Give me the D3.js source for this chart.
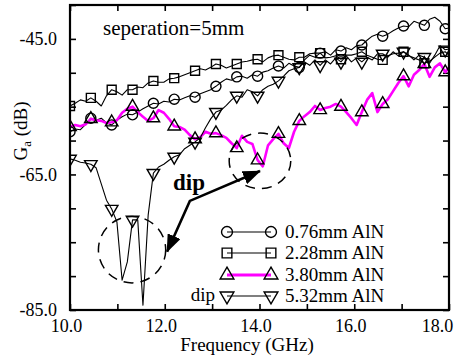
<!DOCTYPE html>
<html>
<head>
<meta charset="utf-8">
<script src="https://cdn.jsdelivr.net/npm/d3@7"></script>
<style>
  body { margin: 0; background: #fff; }
  svg { display: block; }
  svg text { font-family: "Liberation Serif", "Times New Roman", serif; }
</style>
</head>
<body>
<svg id="chart" width="455" height="360"></svg>
<script>
// frequency points (GHz)
const freq = [10.00, 10.11, 10.22, 10.33, 10.44, 10.55, 10.66, 10.77, 10.88, 10.99,
  11.10, 11.21, 11.32, 11.43, 11.54, 11.65, 11.76, 11.87, 11.98, 12.09,
  12.20, 12.31, 12.42, 12.53, 12.64, 12.75, 12.86, 12.97, 13.08, 13.19,
  13.30, 13.41, 13.52, 13.63, 13.74, 13.85, 13.96, 14.07, 14.18, 14.29,
  14.40, 14.51, 14.62, 14.73, 14.84, 14.95, 15.06, 15.17, 15.28, 15.39,
  15.50, 15.61, 15.72, 15.83, 15.94, 16.05, 16.16, 16.27, 16.38, 16.49,
  16.60, 16.71, 16.82, 16.93, 17.04, 17.15, 17.26, 17.37, 17.48, 17.59,
  17.70, 17.81, 17.92, 18.00];

// Ga (dB) per AlN thickness
const aln076 = [-58.7, -58.3, -58.4, -57.6, -56.7, -57.0, -56.7, -57.4, -57.7, -57.0,
  -56.5, -56.1, -56.2, -55.8, -55.3, -54.9, -54.5, -54.6, -54.2, -54.3,
  -53.9, -54.0, -53.7, -53.4, -53.6, -53.1, -52.8, -52.5, -52.0, -51.4,
  -50.9, -51.1, -50.6, -50.5, -50.8, -50.3, -50.5, -49.9, -49.7, -49.3,
  -49.0, -49.3, -48.6, -49.0, -49.2, -48.1, -47.4, -47.7, -47.1, -46.9,
  -47.4, -46.6, -46.8, -46.3, -46.6, -46.0, -45.9, -45.2, -44.6, -44.3,
  -44.6, -44.3, -43.8, -43.4, -43.1, -43.2, -42.4, -42.7, -43.0, -42.1,
  -41.8, -42.4, -43.5, -43.4];

const aln228 = [-54.9, -54.5, -54.0, -54.2, -53.7, -54.2, -54.9, -53.4, -52.5, -52.8,
  -53.3, -52.5, -52.5, -52.1, -52.2, -51.5, -51.2, -51.4, -51.4, -50.9,
  -50.8, -50.6, -50.3, -50.0, -49.7, -49.4, -49.6, -49.2, -48.7, -48.9,
  -49.3, -49.0, -48.7, -48.4, -48.3, -48.1, -48.0, -48.4, -47.8, -47.5,
  -47.4, -47.7, -48.0, -48.1, -47.7, -47.7, -47.2, -47.1, -47.1, -47.8,
  -47.7, -47.5, -48.0, -47.4, -47.4, -47.2, -46.9, -47.4, -47.7, -48.0,
  -48.1, -47.5, -47.2, -47.1, -46.9, -47.5, -47.8, -48.1, -48.6, -48.3,
  -47.7, -47.1, -46.9, -47.4];

const aln380 = [-58.0, -57.7, -57.9, -57.6, -56.8, -57.0, -57.1, -57.4, -57.3, -57.0,
  -55.9, -55.3, -55.0, -55.8, -56.5, -57.1, -56.7, -55.5, -55.9, -56.8,
  -57.9, -58.0, -58.4, -59.2, -59.8, -59.5, -58.7, -59.0, -58.9, -59.2,
  -59.6, -60.4, -61.1, -59.3, -60.2, -60.5, -62.9, -63.8, -60.7, -59.8,
  -59.0, -60.4, -61.1, -58.7, -57.1, -56.4, -55.8, -54.9, -55.5, -55.2,
  -55.0, -54.6, -55.0, -55.8, -56.7, -57.7, -55.8, -54.0, -53.0, -55.8,
  -54.6, -53.9, -52.7, -51.5, -50.5, -52.0, -50.3, -49.6, -48.7, -50.6,
  -49.2, -48.6, -49.9, -49.2];

const aln532 = [-62.7, -62.9, -63.2, -63.3, -63.5, -64.0, -66.4, -68.8, -70.1, -72.0,
  -80.6, -77.9, -71.7, -71.7, -84.3, -71.0, -64.8, -63.9, -63.5, -62.9,
  -62.4, -62.1, -61.2, -60.7, -60.2, -59.6, -58.1, -56.8, -55.8, -55.5,
  -54.8, -54.0, -53.4, -53.6, -52.5, -52.8, -53.4, -52.5, -52.0, -51.7,
  -51.2, -50.5, -49.7, -49.4, -49.2, -48.4, -48.9, -48.1, -48.9, -48.1,
  -48.7, -47.8, -48.4, -47.5, -48.4, -47.8, -48.4, -47.7, -48.1, -47.2,
  -47.2, -47.7, -46.9, -47.5, -46.9, -47.4, -48.1, -47.4, -47.7, -48.6,
  -47.4, -46.0, -46.6, -46.5];

const seriesNames = ['0.76mm AlN', '2.28mm AlN', '3.80mm AlN', '5.32mm AlN'];
const seriesData = [aln076, aln228, aln380, aln532];

const xTicks = [10, 11, 12, 13, 14, 15, 16, 17, 18];
const xTickLabels = [10, 12, 14, 16, 18];
const yTicks = [-85, -80, -75, -70, -65, -60, -55, -50, -45, -40];
const yTickLabels = [-85, -65, -45];

// annotation anchors in data units
const dipEllipses = [
  { f: 11.31, v: -76.1, rf: 0.71, rv: 4.9 },
  { f: 14.01, v: -63.0, rf: 0.65, rv: 4.1 }
];
const dipArrow = [[14.01, -64.5], [12.53, -68.9], [12.05, -76.4]];

// styles
const FONT = '"Liberation Serif", "Times New Roman", serif';
const seriesColors = ['#000', '#000', '#ff00ff', '#000'];
const seriesWidths = [1.1, 1.1, 2.6, 1.1];
const seriesSymbols = [d3.symbolCircle, d3.symbolSquare, d3.symbolTriangle, d3.symbolTriangle];
const symbolSizes = [80, 80, 68, 68];
const symbolRotate = [0, 0, 0, 180];
const MARKER_EVERY = 4;

// plot area
const plot = { left: 70, right: 449, top: 5, bottom: 310 };

const svg = d3.select('#chart');

const x = d3.scaleLinear().domain([10, 18]).range([plot.left, plot.right]);
const y = d3.scaleLinear().domain([-85, -40]).range([plot.bottom, plot.top]);

const defs = svg.append('defs');
defs.append('clipPath').attr('id', 'plotClip')
  .append('rect')
  .attr('x', plot.left).attr('y', plot.top)
  .attr('width', plot.right - plot.left).attr('height', plot.bottom - plot.top);

defs.append('marker')
  .attr('id', 'arrowHead')
  .attr('viewBox', '0 0 18 14')
  .attr('refX', 17).attr('refY', 7)
  .attr('markerWidth', 18).attr('markerHeight', 14)
  .attr('markerUnits', 'userSpaceOnUse')
  .attr('orient', 'auto-start-reverse')
  .append('path')
  .attr('d', 'M0,0 L18,7 L0,14 Z')
  .attr('fill', '#000');

// axes, ticks pointing inward on all four sides
function styleAxis(sel) {
  sel.attr('font-family', FONT).attr('font-size', 18);
  sel.select('.domain').remove();
  sel.selectAll('.tick line').attr('stroke', '#000').attr('stroke-width', 1.6);
  sel.selectAll('.tick text')
    .attr('fill', '#000')
    .style('font-family', FONT)
    .attr('font-size', 18);
}

const fmt = (d) => d.toFixed(1);

svg.append('g')
  .attr('transform', `translate(0, ${plot.bottom})`)
  .call(d3.axisBottom(x).tickValues(xTicks).tickSizeInner(-6).tickSizeOuter(0).tickPadding(9)
    .tickFormat((d) => xTickLabels.includes(d) ? fmt(d) : ''))
  .call(styleAxis)
  .call((g) => g.selectAll('.tick text').attr('dx', (d) => d === 18 ? -12 : -4));

svg.append('g')
  .attr('transform', `translate(0, ${plot.top})`)
  .call(d3.axisTop(x).tickValues(xTicks).tickSizeInner(-6).tickSizeOuter(0).tickFormat(''))
  .call(styleAxis);

svg.append('g')
  .attr('transform', `translate(${plot.left}, 0)`)
  .call(d3.axisLeft(y).tickValues(yTicks).tickSizeInner(-6).tickSizeOuter(0).tickPadding(13)
    .tickFormat((d) => yTickLabels.includes(d) ? fmt(d) : ''))
  .call(styleAxis);

svg.append('g')
  .attr('transform', `translate(${plot.right}, 0)`)
  .call(d3.axisRight(y).tickValues(yTicks).tickSizeInner(-6).tickSizeOuter(0).tickFormat(''))
  .call(styleAxis);

// data lines
const line = d3.line()
  .x((d, i) => x(freq[i]))
  .y((d) => y(d));

const series = svg.append('g').attr('clip-path', 'url(#plotClip)');

seriesData.forEach((vals, s) => {
  series.append('path')
    .datum(vals)
    .attr('d', line)
    .attr('fill', 'none')
    .attr('stroke', seriesColors[s])
    .attr('stroke-width', seriesWidths[s])
    .attr('stroke-linejoin', 'round');
});

seriesData.forEach((vals, s) => {
  const sym = d3.symbol().type(seriesSymbols[s]).size(symbolSizes[s]);
  series.selectAll(null)
    .data(vals.map((v, i) => [freq[i], v]).filter((d, i) => i % MARKER_EVERY === 0 && i < vals.length - 1))
    .enter()
    .append('path')
    .attr('d', sym)
    .attr('transform', (d) => `translate(${x(d[0])}, ${y(d[1])}) rotate(${symbolRotate[s]})`)
    .attr('fill', 'none')
    .attr('stroke', '#000')
    .attr('stroke-width', 1.4);
});

// frame
svg.append('rect')
  .attr('x', plot.left).attr('y', plot.top)
  .attr('width', plot.right - plot.left).attr('height', plot.bottom - plot.top)
  .attr('fill', 'none')
  .attr('stroke', '#000')
  .attr('stroke-width', 2.2);

// dip annotations
svg.selectAll('.dipEllipse')
  .data(dipEllipses)
  .enter()
  .append('ellipse')
  .attr('class', 'dipEllipse')
  .attr('cx', (d) => x(d.f))
  .attr('cy', (d) => y(d.v))
  .attr('rx', (d) => x(d.f + d.rf) - x(d.f))
  .attr('ry', (d) => y(d.v - d.rv) - y(d.v))
  .attr('fill', 'none')
  .attr('stroke', '#000')
  .attr('stroke-width', 1.5)
  .attr('stroke-dasharray', '10,7');

svg.append('path')
  .datum(dipArrow)
  .attr('d', d3.line().x((d) => x(d[0])).y((d) => y(d[1])))
  .attr('fill', 'none')
  .attr('stroke', '#000')
  .attr('stroke-width', 2.6)
  .attr('marker-start', 'url(#arrowHead)')
  .attr('marker-end', 'url(#arrowHead)');

svg.append('text')
  .attr('x', 173).attr('y', 190)
  .attr('font-size', 23)
  .attr('font-weight', 'bold')
  .text('dip');

svg.append('text')
  .attr('x', 103).attr('y', 35)
  .attr('font-size', 21)
  .text('seperation=5mm');

// legend
const legendRows = [232, 253, 275, 296];
const legend = svg.append('g');
seriesNames.forEach((name, s) => {
  const ly = legendRows[s];
  legend.append('line')
    .attr('x1', 227).attr('x2', 271)
    .attr('y1', ly).attr('y2', ly)
    .attr('stroke', seriesColors[s])
    .attr('stroke-width', s === 2 ? 3 : 1.2);
  const sym = d3.symbol().type(seriesSymbols[s]).size(symbolSizes[s] + 14);
  [227, 271].forEach((lx) => {
    legend.append('path')
      .attr('d', sym)
      .attr('transform', `translate(${lx}, ${ly}) rotate(${symbolRotate[s]})`)
      .attr('fill', 'none')
      .attr('stroke', '#000')
      .attr('stroke-width', 1.4);
  });
  legend.append('text')
    .attr('x', 285).attr('y', ly + 6)
    .attr('font-size', 19)
    .text(name);
});
legend.append('text')
  .attr('x', 215).attr('y', legendRows[3] + 5)
  .attr('text-anchor', 'end')
  .attr('font-size', 19)
  .text('dip');

// axis titles
svg.append('text')
  .attr('x', 247).attr('y', 351)
  .attr('text-anchor', 'middle')
  .attr('font-size', 19)
  .text('Frequency (GHz)');

const yTitle = svg.append('text')
  .attr('transform', 'translate(27, 131) rotate(-90)')
  .attr('text-anchor', 'middle')
  .attr('font-size', 19);
yTitle.append('tspan').text('G');
yTitle.append('tspan').attr('font-size', 13).attr('dy', 4).text('a');
yTitle.append('tspan').attr('dy', -4).text(' (dB)');
</script>
</body>
</html>
